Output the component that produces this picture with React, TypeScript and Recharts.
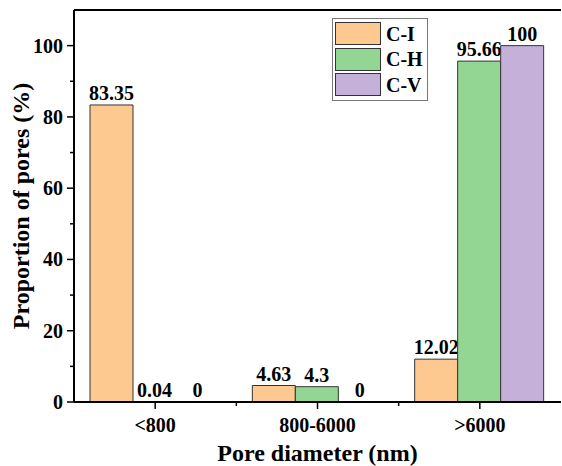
import { Bar, BarChart, Rectangle, ReferenceLine, XAxis, YAxis } from "recharts";

const CATEGORIES = ["<800", "800-6000", ">6000"];
const CI = [83.35, 4.63, 12.02];
const CH = [0.04, 4.3, 95.66];
const CV = [0, 0, 100];
const Y_TICKS = [0, 10, 20, 30, 40, 50, 60, 70, 80, 90, 100];

const SERIES = [
  { key: "ci", name: "C-I", values: CI, color: "#fdc990" },
  { key: "ch", name: "C-H", values: CH, color: "#93d693" },
  { key: "cv", name: "C-V", values: CV, color: "#c4b0d8" },
];

const data = CATEGORIES.map((cat, i) => ({
  cat,
  ci: CI[i],
  ch: CH[i],
  cv: CV[i],
}));

const W = 562;
const H = 466;
const Y_AXIS_W = 74;
const X_AXIS_H = 64;
const MARGIN = { top: 10, right: 1, bottom: 0, left: 0 };
const PLOT_BOTTOM = H - MARGIN.bottom - X_AXIS_H;
const PLOT_W = W - Y_AXIS_W - MARGIN.left - MARGIN.right;
const FONT = '"Liberation Serif", "Times New Roman", serif';

function YTick(props: any) {
  const { y, payload } = props;
  const major = payload.value % 20 === 0;
  const ax = MARGIN.left + Y_AXIS_W;
  return (
    <g>
      <line x1={ax} x2={ax - (major ? 7 : 4)} y1={y} y2={y} stroke="#000" strokeWidth={1.5} />
      {major && (
        <text
          x={ax - 11}
          y={y}
          textAnchor="end"
          dominantBaseline="central"
          fontFamily={FONT}
          fontWeight="bold"
          fontSize={20}
          fill="#000"
        >
          {payload.value}
        </text>
      )}
    </g>
  );
}

function XTick(props: any) {
  const { x, payload, index } = props;
  const band = PLOT_W / CATEGORIES.length;
  return (
    <g>
      <line x1={x} x2={x} y1={PLOT_BOTTOM} y2={PLOT_BOTTOM + 7} stroke="#000" strokeWidth={1.5} />
      {index < CATEGORIES.length - 1 && (
        <line
          x1={x + band / 2}
          x2={x + band / 2}
          y1={PLOT_BOTTOM}
          y2={PLOT_BOTTOM + 4}
          stroke="#000"
          strokeWidth={1.5}
        />
      )}
      <text
        x={x}
        y={PLOT_BOTTOM + 23}
        textAnchor="middle"
        dominantBaseline="central"
        fontFamily={FONT}
        fontWeight="bold"
        fontSize={20}
        fill="#000"
      >
        {payload.value}
      </text>
    </g>
  );
}

// bar + value label drawn together so zero-height bars still get their "0"
function makeShape(key: string) {
  return (props: any) => {
    const { x, y, width, height, payload } = props;
    const v = payload[key];
    return (
      <g>
        {height > 0 && <Rectangle {...props} />}
        <text
          x={x + width / 2}
          y={y - 5}
          textAnchor="middle"
          fontFamily={FONT}
          fontWeight="bold"
          fontSize={20}
          fill="#000"
        >
          {String(v)}
        </text>
      </g>
    );
  };
}

function LegendBox() {
  return (
    <div
      style={{
        position: "absolute",
        left: 332,
        top: 18,
        width: 88,
        border: "1px solid #777",
        background: "#fff",
        padding: "2px 4px 2px 2px",
        fontFamily: FONT,
        fontWeight: "bold",
        fontSize: 20,
        lineHeight: "20px",
      }}
    >
      {SERIES.map((s) => (
        <div key={s.key} style={{ display: "flex", alignItems: "center", height: 25.5 }}>
          <span
            style={{
              display: "inline-block",
              width: 44,
              height: 21,
              background: s.color,
              border: "1px solid #333",
              marginRight: 5,
            }}
          />
          <span>{s.name}</span>
        </div>
      ))}
    </div>
  );
}

export default function App() {
  return (
    <div style={{ position: "absolute", left: 0, top: 0, width: W, height: H, background: "#fff" }}>
      <BarChart
        width={W}
        height={H}
        data={data}
        margin={MARGIN}
        barCategoryGap={16}
        barGap={0}
      >
        <XAxis
          dataKey="cat"
          height={X_AXIS_H}
          axisLine={{ stroke: "#000", strokeWidth: 2 }}
          tickLine={false}
          tick={<XTick />}
          interval={0}
          label={{
            value: "Pore diameter (nm)",
            position: "insideBottom",
            offset: 5,
            style: { fontFamily: FONT, fontWeight: "bold", fontSize: 24, fill: "#000" },
          }}
        />
        <YAxis
          width={Y_AXIS_W}
          domain={[0, 110]}
          ticks={Y_TICKS}
          interval={0}
          axisLine={{ stroke: "#000", strokeWidth: 2 }}
          tickLine={false}
          tick={<YTick />}
          label={{
            value: "Proportion of pores (%)",
            angle: -90,
            position: "center",
            dx: -17,
            style: { fontFamily: FONT, fontWeight: "bold", fontSize: 24, fill: "#000", textAnchor: "middle" },
          }}
        />
        <ReferenceLine y={110} stroke="#000" strokeWidth={2} />
        {SERIES.map((s) => (
          <Bar
            key={s.key}
            dataKey={s.key}
            name={s.name}
            fill={s.color}
            stroke="#333"
            strokeWidth={1}
            isAnimationActive={false}
            shape={makeShape(s.key)}
          />
        ))}
      </BarChart>
      <LegendBox />
    </div>
  );
}
